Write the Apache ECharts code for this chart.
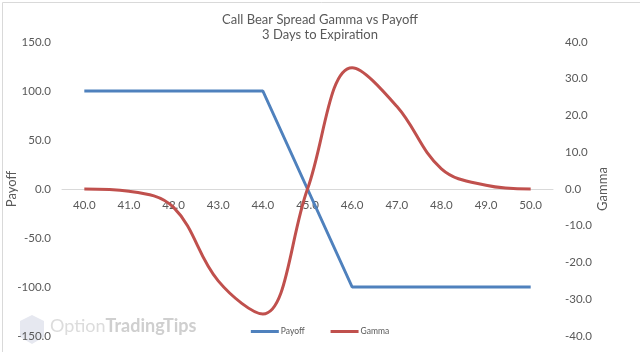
<!DOCTYPE html>
<html>
<head>
<meta charset="utf-8">
<script src="https://cdn.jsdelivr.net/npm/echarts@6/dist/echarts.min.js"></script>
<style>
  html, body { margin: 0; padding: 0; background: #fff; }
  #main { width: 640px; height: 352px; }
</style>
</head>
<body>
<div id="main"></div>
<script>
var prices = ['40.0', '41.0', '42.0', '43.0', '44.0', '45.0', '46.0', '47.0', '48.0', '49.0', '50.0'];
var payoff = [100, 100, 100, 100, 100, 0, -100, -100, -100, -100, -100];
var gamma = [0, -0.6, -5, -25, -34, 0, 33, 22.5, 5.5, 1, 0];

var chartDom = document.getElementById('main');
var myChart = echarts.init(chartDom);
var txt = '#595959';
var font = 'Lato, sans-serif';
var fmt = function (v) { return v.toFixed(1); };

var option = {
    animation: false,
    textStyle: { fontFamily: font },
    title: {
        text: 'Call Bear Spread Gamma vs Payoff',
        subtext: '3 Days to Expiration',
        left: 'center',
        top: 8,
        itemGap: 2,
        textStyle: { color: txt, fontSize: 13, fontWeight: 'normal', fontFamily: font },
        subtextStyle: { color: txt, fontSize: 13, fontFamily: font }
    },
    legend: {
        bottom: 11,
        left: 'center',
        itemWidth: 28,
        itemHeight: 3,
        itemGap: 26,
        icon: 'rect',
        textStyle: { color: txt, fontSize: 8.5, fontFamily: font, padding: [0, 0, 0, -3] },
        data: ['Payoff', 'Gamma']
    },
    grid: { left: 62, right: 87, top: 42, bottom: 16, outerBoundsMode: 'none' },
    xAxis: {
        type: 'category',
        data: prices,
        boundaryGap: true,
        position: 'bottom',
        offset: -147,
        axisLine: { onZero: false, lineStyle: { color: '#d9d9d9' } },
        axisTick: { show: false },
        axisLabel: { color: txt, fontSize: 11.5, margin: 10 }
    },
    yAxis: [
        {
            type: 'value', min: -150, max: 150, interval: 50,
            name: 'Payoff', nameLocation: 'middle', nameGap: 44, nameRotate: 90, nameMoveOverlap: false,
            nameTextStyle: { color: txt, fontSize: 13, fontFamily: font },
            axisLine: { show: false }, axisTick: { show: false }, splitLine: { show: false },
            axisLabel: { color: txt, fontSize: 11.5, margin: 11, formatter: fmt }
        },
        {
            type: 'value', min: -40, max: 40, interval: 10,
            name: 'Gamma', nameLocation: 'middle', nameGap: 43, nameRotate: 90, nameMoveOverlap: false,
            nameTextStyle: { color: txt, fontSize: 13, fontFamily: font },
            axisLine: { show: false }, axisTick: { show: false }, splitLine: { show: false },
            axisLabel: { color: txt, fontSize: 11.5, margin: 12, formatter: fmt }
        }
    ],
    series: [
        {
            name: 'Payoff', type: 'line', data: payoff, yAxisIndex: 0,
            symbol: 'none', color: '#4f81bd',
            lineStyle: { width: 3, color: '#4f81bd' }
        },
        {
            name: 'Gamma', type: 'line', data: gamma, yAxisIndex: 1,
            symbol: 'none', smooth: 0.38, color: '#c0504d',
            lineStyle: { width: 3, color: '#c0504d' }
        }
    ],
    graphic: [
        {
            type: 'rect', left: 0, top: 0, silent: true,
            shape: { width: 639, height: 351 },
            style: { fill: 'none', stroke: '#d9d9d9', lineWidth: 1 }
        },
        {
            type: 'polygon', silent: true, z: -1,
            shape: { points: [[20, 321], [32, 315], [44, 321], [44, 337], [32, 344], [20, 337]] },
            style: { fill: '#e6e8f0' }
        },
        {
            type: 'text', left: 50, top: 317, silent: true, z: -1,
            style: {
                text: '{a|Option}{b|TradingTips}',
                rich: {
                    a: { fontSize: 18, fill: '#dcdcdc', fontFamily: font },
                    b: { fontSize: 18, fill: '#cfcfcf', fontWeight: 'bold', fontFamily: font }
                }
            }
        }
    ]
};

myChart.setOption(option);
</script>
</body>
</html>
